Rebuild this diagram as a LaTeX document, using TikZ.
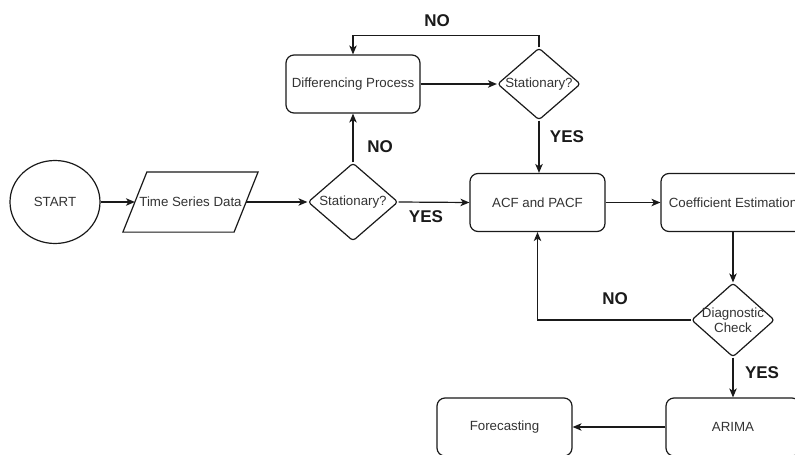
\documentclass[tikz,border=0pt]{standalone}
\usepackage{fontspec}
\setmainfont{Liberation Sans}
\usetikzlibrary{shapes.geometric,arrows.meta}
\definecolor{txt}{HTML}{333333}
\definecolor{ln}{HTML}{1A1A1A}
\tikzset{
  base/.style={draw=ln, line width=1.2pt, text=txt, font=\fontsize{13.3}{15}\selectfont, inner sep=0pt},
  rbox/.style={base, rectangle, rounded corners=8pt, minimum width=134pt, minimum height=58pt},
  dia/.style={base, diamond, rounded corners=3pt, minimum width=#1},
  startshape/.style={base, ellipse, minimum width=90pt, minimum height=83pt},
  datashape/.style={base, draw=none, rectangle, minimum width=110pt, minimum height=59pt},
  arr/.style={draw=ln, line width=1.2pt, -{Stealth[length=9pt,width=7.5pt,inset=2.5pt]}},
  plain/.style={draw=ln, line width=1.2pt},
  dtext/.style={text=txt, font=\fontsize{13.3}{15}\selectfont},
  lbl/.style={font=\fontsize{17}{19}\selectfont\bfseries, text=ln, inner sep=0pt}
}
\begin{document}
\begin{tikzpicture}[x=1pt,y=-1pt]
\useasboundingbox (0,0) rectangle (795,455);
\clip (0,0) rectangle (795,455);
\fill[white] (0,0) rectangle (795,455);

\node[startshape] (start) at (55,202) {START};
\node[datashape] (tsd) at (190.5,202) {Time Series Data};
\draw[plain, line join=miter] ([xshift=-12pt]tsd.south west) -- ([xshift=-12pt]tsd.south east)
  -- ([xshift=12pt]tsd.north east) -- ([xshift=12pt]tsd.north west) -- cycle;
\node[dia=90pt, minimum height=78pt, label={[dtext]center:Stationary?}] (d1) at (353,202) {};
\node[rbox] (dp) at (353,84) {Differencing Process};
\node[dia=83pt, minimum height=72pt, label={[dtext]center:Stationary?}] (d2) at (539,84) {};
\node[rbox, minimum width=135pt] (acf) at (537.5,202.5) {ACF and PACF};
\node[rbox, minimum width=144pt] (ce) at (733,202.5) {Coefficient Estimation};
\node[dia=83pt, minimum height=74pt, label={[dtext,align=center]center:Diagnostic\\Check}] (dc) at (733,320) {};
\node[rbox] (arima) at (733,427) {ARIMA};
\node[rbox, minimum width=135pt] (fc) at (504.5,427) {Forecasting};

\draw[arr] (start) -- (tsd);
\draw[arr] (tsd) -- (d1);
\draw[arr] (d1) -- (dp);
\draw[arr] (dp) -- (d2);
\draw[arr] (d2.north) -- ++(0,-12) -| (dp.north);
\draw[arr] (d2.south) -- (d2.south |- acf.north);
\draw[arr] (d1.east) -- (acf.west);
\draw[arr] (acf) -- (ce);
\draw[arr] (ce.south) -- (dc.north);
\draw[arr] (dc.west) -| (acf.south);
\draw[arr] (dc.south) -- (arima.north);
\draw[arr] (arima.west) -- (fc.east);

\node[lbl] (l1) at (437,21) {NO};
\node[lbl] (l2) at (380,147) {NO};
\node[lbl] (l3) at (567,137) {YES};
\node[lbl] (l4) at (426,217) {YES};
\node[lbl] (l5) at (615,299) {NO};
\node[lbl] (l6) at (762,373) {YES};
\end{tikzpicture}
\end{document}
